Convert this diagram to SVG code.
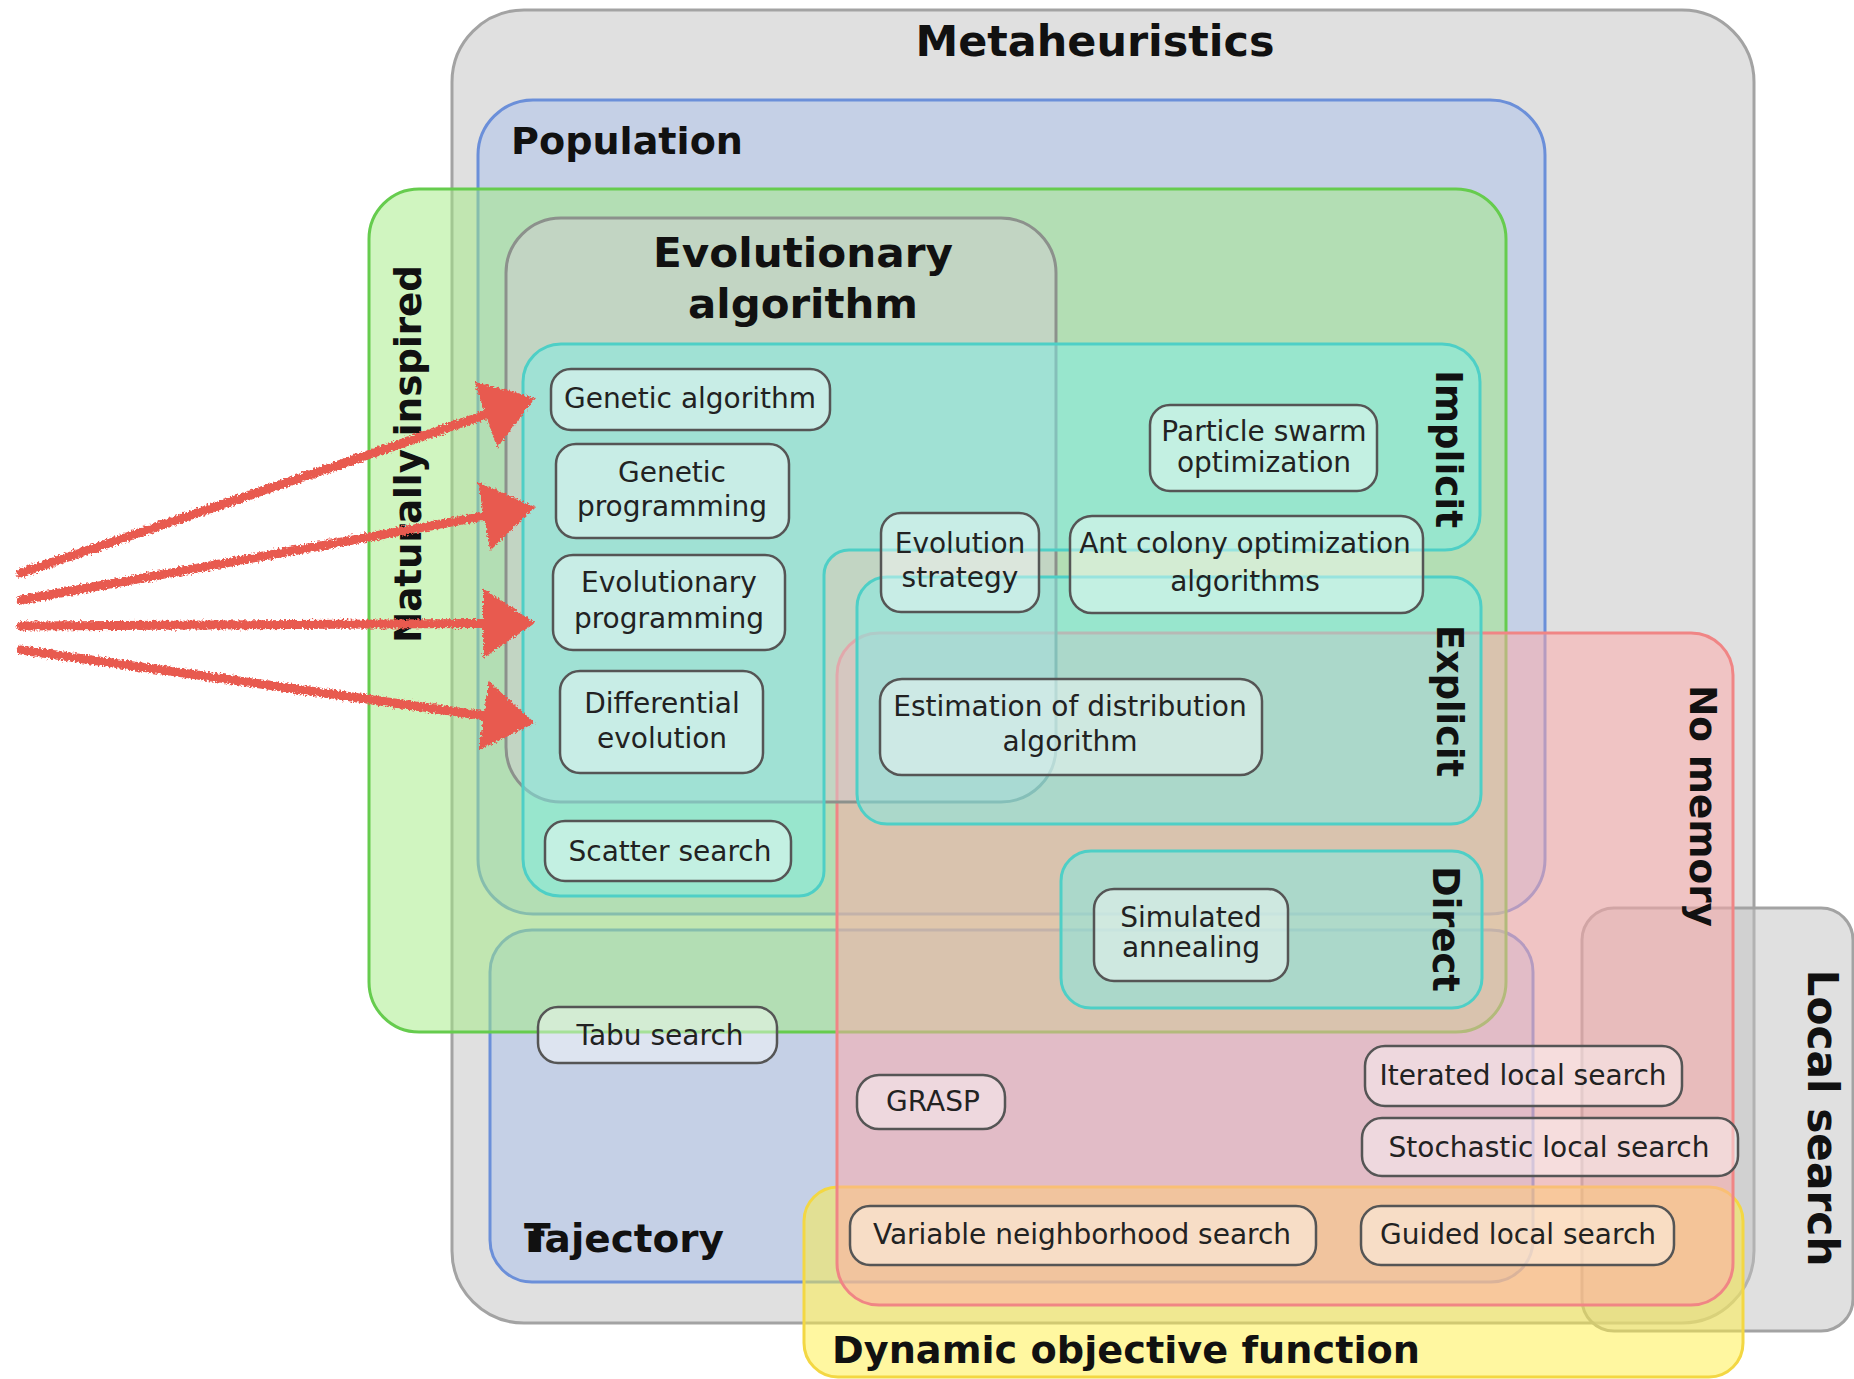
<svg xmlns="http://www.w3.org/2000/svg" width="1854" height="1379" viewBox="0 0 1854 1379">
<defs>
<style>
.sec{stroke-width:3}
.gray{fill:#c1c1c1;fill-opacity:.5;stroke:#a3a3a3}
.blue{fill:#aac0ec;fill-opacity:.5;stroke:#6b8fd9}
.green{fill:#a2ec82;fill-opacity:.5;stroke:#66cc4e}
.yellow{fill:#fff041;fill-opacity:.5;stroke:#f3d743}
.red{fill:#ffa8a8;fill-opacity:.5;stroke:#f08585}
.evo{fill:#d2ccd2;fill-opacity:.5;stroke:#8c918c}
.teal{fill:#7deee6;fill-opacity:.5;stroke:#4ecfc6}
.node rect{fill:#fff;fill-opacity:.42;stroke:#555;stroke-width:2.5}
.nt{font-family:"DejaVu Sans","Liberation Sans",sans-serif;font-size:28px;fill:#222;text-anchor:middle}
.tt{font-family:"DejaVu Sans","Liberation Sans",sans-serif;font-weight:bold;fill:#111}
.vt{text-anchor:middle}
.arrow{fill:none;stroke:#e85a50;stroke-width:9;stroke-linecap:round}
</style>
<marker id="ah" viewBox="0 0 52 70" markerWidth="52" markerHeight="70" refX="42" refY="35" orient="auto" markerUnits="userSpaceOnUse">
<path d="M0,0 L52,35 L0,70 Z" fill="#e85a50"/>
</marker>
<filter id="rough" filterUnits="userSpaceOnUse" x="0" y="330" width="600" height="460">
<feTurbulence type="fractalNoise" baseFrequency="0.45" numOctaves="2" seed="4" result="n"/>
<feDisplacementMap in="SourceGraphic" in2="n" scale="6" xChannelSelector="R" yChannelSelector="G"/>
</filter>
</defs>

<g id="metaheuristics">
<rect class="sec gray" x="452" y="10" width="1302" height="1313" rx="72"/>
<text class="tt" x="1095" y="56" font-size="43" text-anchor="middle" textLength="359" lengthAdjust="spacingAndGlyphs">Metaheuristics</text>
</g>

<g id="local-search">
<rect class="sec gray" x="1582" y="908" width="271" height="423" rx="32"/>
<text class="tt vt" transform="translate(1808,1118) rotate(90)" font-size="42" textLength="297" lengthAdjust="spacingAndGlyphs">Local search</text>
</g>

<g id="population">
<rect class="sec blue" x="478" y="100" width="1067" height="814" rx="55"/>
<text class="tt" x="511" y="154" font-size="38" textLength="232" lengthAdjust="spacingAndGlyphs">Population</text>
</g>

<g id="trajectory">
<rect class="sec blue" x="490" y="930" width="1043" height="352" rx="42"/>
<text class="tt" x="524" y="1252" font-size="39">T<tspan dx="-21">r</tspan>ajectory</text>
</g>

<g id="naturally-inspired">
<rect class="sec green" x="369" y="189" width="1137" height="843" rx="50"/>
<text class="tt vt" transform="translate(421,454) rotate(-90)" font-size="38" textLength="378" lengthAdjust="spacingAndGlyphs">Naturally inspired</text>
</g>

<g id="dynamic-objective-function">
<rect class="sec yellow" x="804" y="1187" width="939" height="190" rx="34"/>
<text class="tt" x="832" y="1363" font-size="38" textLength="588" lengthAdjust="spacingAndGlyphs">Dynamic objective function</text>
</g>

<g id="no-memory">
<rect class="sec red" x="837" y="633" width="896" height="672" rx="42"/>
<text class="tt vt" transform="translate(1690,806) rotate(90)" font-size="37" textLength="242" lengthAdjust="spacingAndGlyphs">No memory</text>
</g>

<g id="evolutionary-algorithm">
<rect class="sec evo" x="506" y="218" width="550" height="584" rx="55"/>
<text class="tt" x="803" y="267" font-size="41" text-anchor="middle" textLength="300" lengthAdjust="spacingAndGlyphs">Evolutionary</text>
<text class="tt" x="803" y="318" font-size="41" text-anchor="middle" textLength="230" lengthAdjust="spacingAndGlyphs">algorithm</text>
</g>

<g id="implicit">
<path class="sec teal" d="M561,344 H1442 A38,38 0 0 1 1480,382 V515 A35,35 0 0 1 1445,550 H849 A25,25 0 0 0 824,575 V871 A25,25 0 0 1 799,896 H560 A37,37 0 0 1 523,859 V382 A38,38 0 0 1 561,344 Z"/>
<text class="tt vt" transform="translate(1436,449) rotate(90)" font-size="38" textLength="158" lengthAdjust="spacingAndGlyphs">Implicit</text>
</g>

<g id="explicit">
<rect class="sec teal" x="857" y="577" width="624" height="247" rx="30"/>
<text class="tt vt" transform="translate(1437,701) rotate(90)" font-size="38" textLength="152" lengthAdjust="spacingAndGlyphs">Explicit</text>
</g>

<g id="direct">
<rect class="sec teal" x="1061" y="851" width="421" height="157" rx="30"/>
<text class="tt vt" transform="translate(1433,929) rotate(90)" font-size="37" textLength="126" lengthAdjust="spacingAndGlyphs">Direct</text>
</g>

<g id="genetic-algorithm" class="node">
<rect x="551" y="369" width="279" height="61" rx="20"/>
<text class="nt" x="690" y="408">Genetic algorithm</text>
</g>
<g id="genetic-programming" class="node">
<rect x="556" y="444" width="233" height="94" rx="20"/>
<text class="nt" x="672" y="482">Genetic</text>
<text class="nt" x="672" y="516">programming</text>
</g>
<g id="evolutionary-programming" class="node">
<rect x="553" y="555" width="232" height="95" rx="20"/>
<text class="nt" x="669" y="592">Evolutionary</text>
<text class="nt" x="669" y="628">programming</text>
</g>
<g id="differential-evolution" class="node">
<rect x="560" y="671" width="203" height="102" rx="20"/>
<text class="nt" x="662" y="713">Differential</text>
<text class="nt" x="662" y="748">evolution</text>
</g>
<g id="scatter-search" class="node">
<rect x="545" y="821" width="246" height="60" rx="20"/>
<text class="nt" x="670" y="861">Scatter search</text>
</g>
<g id="tabu-search" class="node">
<rect x="538" y="1007" width="239" height="56" rx="20"/>
<text class="nt" x="660" y="1045">Tabu search</text>
</g>
<g id="evolution-strategy" class="node">
<rect x="881" y="513" width="158" height="99" rx="20"/>
<text class="nt" x="960" y="553">Evolution</text>
<text class="nt" x="960" y="587">strategy</text>
</g>
<g id="particle-swarm-optimization" class="node">
<rect x="1150" y="405" width="227" height="86" rx="20"/>
<text class="nt" x="1264" y="441" font-size="27">Particle swarm</text>
<text class="nt" x="1264" y="472" font-size="27">optimization</text>
</g>
<g id="ant-colony-optimization" class="node">
<rect x="1070" y="516" width="353" height="97" rx="22"/>
<text class="nt" x="1245" y="553">Ant colony optimization</text>
<text class="nt" x="1245" y="591">algorithms</text>
</g>
<g id="estimation-of-distribution" class="node">
<rect x="880" y="679" width="382" height="96" rx="22"/>
<text class="nt" x="1070" y="716">Estimation of distribution</text>
<text class="nt" x="1070" y="751">algorithm</text>
</g>
<g id="simulated-annealing" class="node">
<rect x="1094" y="889" width="194" height="92" rx="20"/>
<text class="nt" x="1191" y="927">Simulated</text>
<text class="nt" x="1191" y="957">annealing</text>
</g>
<g id="grasp" class="node">
<rect x="857" y="1075" width="148" height="54" rx="22"/>
<text class="nt" x="933" y="1111">GRASP</text>
</g>
<g id="iterated-local-search" class="node">
<rect x="1365" y="1046" width="317" height="60" rx="20"/>
<text class="nt" x="1523" y="1085">Iterated local search</text>
</g>
<g id="stochastic-local-search" class="node">
<rect x="1362" y="1118" width="376" height="58" rx="20"/>
<text class="nt" x="1549" y="1157">Stochastic local search</text>
</g>
<g id="variable-neighborhood-search" class="node">
<rect x="850" y="1206" width="466" height="59" rx="20"/>
<text class="nt" x="1082" y="1244">Variable neighborhood search</text>
</g>
<g id="guided-local-search" class="node">
<rect x="1361" y="1206" width="313" height="59" rx="20"/>
<text class="nt" x="1518" y="1244">Guided local search</text>
</g>

<g id="connectors" filter="url(#rough)">
<path class="arrow" d="M21,573 L525.5,401.2" marker-end="url(#ah)"/>
<path class="arrow" d="M21,600 L525.2,508.8" marker-end="url(#ah)"/>
<path class="arrow" d="M21,626 L525,623.1" marker-end="url(#ah)"/>
<path class="arrow" d="M21,650 L525.1,721.6" marker-end="url(#ah)"/>
</g>
</svg>
